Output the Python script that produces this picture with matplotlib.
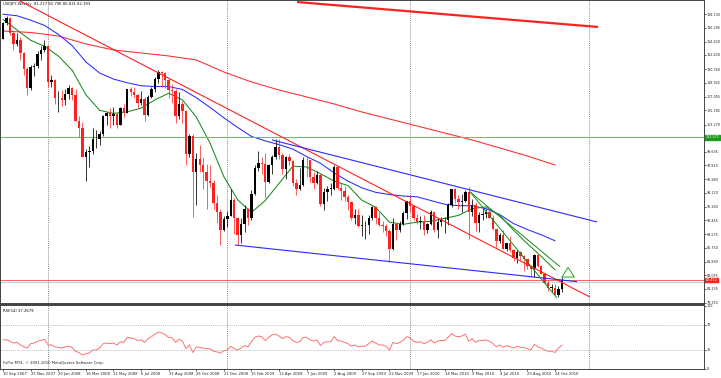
import numpy as np
import pandas as pd
import matplotlib
matplotlib.use("Agg")
import matplotlib.pyplot as plt

# ---------------- data ----------------
dates = pd.date_range("2007-09-30", periods=163, freq="7D")
opens = [114.8,116.9,117.6,115.6,114.1,114.7,112.9,110.7,108.2,111.0,111.2,112.8,113.3,113.9,109.0,109.3,106.8,106.8,106.6,107.4,
         108.2,107.3,103.8,102.8,99.0,99.6,99.8,101.3,101.3,102.0,104.5,104.9,104.5,104.7,103.3,105.5,104.9,108.0,107.6,107.3,
         106.2,106.7,104.6,107.0,108.0,109.4,110.4,110.2,109.3,107.9,107.8,104.4,106.1,105.1,99.3,101.7,96.9,98.7,97.9,96.9,
         95.7,95.4,92.7,91.6,89.2,90.6,91.0,93.2,90.7,88.5,89.9,92.0,90.7,94.0,97.5,98.2,98.0,95.6,97.9,99.0,
         100.3,99.2,97.3,98.9,98.4,95.5,94.7,95.2,98.6,98.5,96.2,95.5,96.5,92.6,94.3,94.7,94.7,97.6,94.8,94.4,
         93.6,92.9,90.8,91.1,89.7,89.8,89.8,90.8,92.2,90.7,89.8,89.7,89.0,86.6,90.0,89.2,89.9,91.4,93.0,92.3,
         90.7,90.2,90.3,89.2,89.9,91.5,89.2,90.2,90.5,90.5,92.5,94.6,93.3,92.9,93.1,94.2,91.6,92.5,90.1,91.1,
         91.3,91.6,90.8,89.3,87.6,88.5,86.6,87.4,86.5,85.4,86.2,85.6,85.2,84.3,83.9,85.8,84.3,83.3,82.0,81.4,
         81.4,80.4,81.217]
highs = [117.1,117.9,117.7,115.8,115.6,115.0,113.0,111.0,111.3,111.6,113.2,113.8,114.6,113.9,110.0,109.4,107.8,107.9,108.1,108.6,
         108.4,108.0,104.5,103.6,100.0,100.4,102.8,102.6,102.4,104.6,105.0,105.5,105.7,104.9,105.6,106.1,108.0,108.4,108.3,107.4,
         107.8,107.0,107.2,108.3,109.7,110.6,110.5,110.3,109.5,108.8,108.0,107.7,106.5,105.2,102.0,102.0,99.5,100.5,99.0,98.0,
         97.9,95.8,93.9,92.0,91.0,91.7,94.6,93.4,90.9,90.7,92.5,92.1,94.5,97.8,99.7,98.9,99.5,98.0,99.2,101.4,
         101.3,99.5,99.1,99.3,98.6,96.0,97.4,98.9,98.9,98.6,96.9,97.1,96.6,94.8,95.1,95.4,97.8,97.7,95.3,95.0,
         93.9,93.1,92.0,92.0,91.2,90.3,91.1,92.3,92.3,91.5,90.4,89.9,89.3,90.8,90.1,90.3,91.7,93.0,93.8,92.4,
         91.3,91.0,91.2,90.1,91.8,91.6,90.7,90.9,90.9,92.8,94.6,94.8,93.8,94.0,94.5,94.9,93.3,92.9,91.5,92.2,
         92.0,92.0,91.2,89.3,88.7,89.2,87.4,88.4,86.6,86.4,86.3,85.8,85.3,84.4,85.9,85.9,84.4,83.4,82.4,81.9,
         81.9,81.6,82.796]
lows = [114.8,116.6,115.3,113.3,113.9,112.0,109.9,107.3,107.9,109.8,110.9,112.0,113.0,108.4,108.3,106.0,105.0,105.8,105.9,106.7,
        106.6,103.8,101.6,98.9,95.7,97.6,99.4,100.2,100.6,101.7,103.2,102.8,103.2,102.8,103.2,104.3,104.9,107.1,106.9,105.5,
        105.9,103.8,104.5,106.8,107.6,108.9,108.4,108.2,106.8,106.2,103.5,104.0,103.5,97.9,99.0,90.9,92.5,96.9,94.6,92.0,
        94.9,91.9,90.1,87.1,89.0,89.6,91.0,88.6,87.1,87.4,88.9,89.8,90.5,93.8,97.0,96.6,93.5,95.5,96.7,98.7,
        98.7,96.7,96.0,97.8,95.1,93.9,94.5,95.0,96.3,95.6,94.7,95.3,92.4,91.8,93.0,93.8,94.5,94.5,93.2,93.0,
        91.8,90.5,90.0,89.6,88.3,88.0,88.6,90.5,90.0,89.7,88.9,88.3,84.8,86.4,87.8,88.9,89.8,90.6,91.5,90.5,
        89.9,89.3,88.5,88.8,89.8,88.9,88.1,89.7,88.8,89.8,92.2,92.7,91.9,91.6,92.9,87.9,91.0,89.0,88.9,90.5,
        90.7,90.7,89.1,86.9,87.4,86.6,86.3,86.2,85.0,84.7,85.1,83.6,83.9,82.9,82.9,84.2,83.2,81.9,80.9,80.8,
        80.4,80.2,80.831]
closes = [116.9,117.6,115.6,114.1,114.7,112.9,110.7,108.2,111.0,111.2,112.8,113.3,113.9,109.0,109.3,106.8,106.8,106.6,107.4,108.2,
          107.3,103.8,102.8,99.0,99.6,99.8,101.3,101.3,102.0,104.5,104.9,104.5,104.7,103.3,105.5,104.9,108.0,107.6,107.3,106.2,
          106.7,104.6,107.0,108.0,109.4,110.4,110.2,109.3,107.9,107.8,104.4,106.1,105.1,99.3,101.7,96.9,98.7,97.9,96.9,95.7,
          95.4,92.7,91.6,89.2,90.6,91.0,93.2,90.7,88.5,89.9,92.0,90.7,94.0,97.5,98.2,98.0,95.6,97.9,99.0,100.3,
          99.2,97.3,98.9,98.4,95.5,94.7,95.2,98.6,98.5,96.2,95.5,96.5,92.6,94.3,94.7,94.7,97.6,94.8,94.4,93.6,
          92.9,90.8,91.1,89.7,89.8,89.8,90.8,92.2,90.7,89.8,89.7,89.0,86.6,90.0,89.2,89.9,91.4,93.0,92.3,90.7,
          90.2,90.3,89.2,89.9,91.5,89.2,90.2,90.5,90.5,92.5,94.6,93.3,92.9,93.1,94.2,91.6,92.5,90.1,91.1,91.3,
          91.6,90.8,89.3,87.6,88.5,86.6,87.4,86.5,85.4,86.2,85.6,85.2,84.3,83.9,85.8,84.3,83.3,82.0,81.4,81.4,
          80.4,81.217,82.393]

# moving averages
ma_green_step = 4
ma_green = [117.4,116.0,114.6,113.8,112.5,110.6,107.3,105.2,104.8,105.0,105.5,106.6,107.5,106.6,104.3,100.8,96.3,93.2,91.5,93.1,
            95.4,97.7,97.6,96.7,95.7,95.1,93.15,92.2,90.2,89.9,90.2,90.3,90.7,91.1,92.0,92.25,91.1,89.1,87.3,85.6,83.8]
ma_blue_step = 4
ma_blue = [118.1,117.9,117.3,116.6,115.4,113.9,111.7,110.2,109.4,108.9,108.5,108.4,108.4,108.0,106.9,105.6,104.2,102.9,101.7,101.1,
           100.6,100.0,99.0,98.1,96.8,95.7,94.8,94.2,93.9,93.7,93.6,93.1,92.6,92.4,92.4,92.0,91.2,90.0,89.2,88.5,87.7]
ma_red_step = 8
ma_red = [115.85,115.65,115.18,114.11,113.30,112.90,112.50,111.96,110.35,109.01,107.93,107.0,106.05,104.98,104.04,103.1,102.16,101.22,100.15,99.07,97.87]

rsi = [46,46,44,41,42,38,35,33,40,41,44,45,47,38,38,35,34,33,35,36,
       34,28,26,22,24,25,30,30,33,40,41,40,41,38,43,42,50,49,48,45,
       46,42,48,51,55,58,57,54,50,49,42,47,44,32,38,26,35,34,33,32,
       32,28,27,25,29,30,36,32,30,33,37,35,43,50,52,51,45,50,54,55,
       52,48,51,50,45,42,43,50,50,46,44,46,37,42,43,43,51,45,44,42,
       40,36,38,35,36,36,40,44,41,38,38,36,30,42,40,42,45,51,49,44,
       42,43,40,42,46,41,44,45,45,50,56,52,51,52,55,44,48,42,45,45,
       46,44,40,35,38,34,37,35,33,36,34,34,32,30,39,35,33,30,28,28,
       26,33,37.27]

# drawn objects: (bar, price) anchors
trend_red_steep = [(4.35, 120.01), (170.1, 80.15)]
trend_red_top = [(85.2, 119.74), (172.5, 116.39)]
trend_blue_upper = [(78.0, 101.22), (172.2, 90.22)]
trend_blue_lower = [(67.2, 87.13), (166.4, 82.21)]
trend_green_a = [(135.4, 94.24), (160.6, 80.0)]
trend_green_b = [(135.4, 94.24), (161.5, 84.2)]
arrow_up = [(163.8, 82.85), (163.8, 84.5)]
hline_green = 101.57
ask_price = 82.45
bid_price = 82.13
year_bars = [13, 65, 118, 170]

price_ticks = [118.130,116.295,114.420,112.630,110.740,108.925,107.055,105.185,103.270,99.635,97.815,95.980,
               94.120,92.260,90.445,88.575,86.750,84.890,83.075,81.235,79.350]

# ---------------- figure ----------------
FS = 2.7
FSY = 2.45
W, H = 721, 378
fig = plt.figure(figsize=(W/100, H/100), dpi=100)
fig.patch.set_facecolor("white")
axw = 704/W
ax = fig.add_axes([0, 1-304/H, axw, 304/H])
ax2 = fig.add_axes([0, 1-369/H, axw, 64/H])

n = len(closes)
x = np.arange(n)
xlim = (-0.9, 203.2)
for a in (ax, ax2):
    a.set_xlim(*xlim)
    for s in a.spines.values():
        s.set_color("#444444")
        s.set_linewidth(0.7)
    a.set_facecolor("white")
ax.spines["bottom"].set_linewidth(1.4)
ax2.spines["top"].set_linewidth(1.4)
ax.set_ylim(79.21, 120.01)
ax2.set_ylim(0, 101)

# year separators
for b in year_bars:
    for a in (ax, ax2):
        a.axvline(b, color="#666666", lw=0.5, ls=(0, (1.5, 1.5)))

# candles
o = np.array(opens); h = np.array(highs); l = np.array(lows); c = np.array(closes)
up = c >= o
ax.vlines(x[up], l[up], h[up], color="#000000", lw=0.55, zorder=3)
ax.vlines(x[~up], l[~up], h[~up], color="#ff3030", lw=0.55, zorder=3)
ax.bar(x[up], np.maximum(c[up]-o[up], 0.05), bottom=o[up], width=0.7, color="#000000", zorder=4)
ax.bar(x[~up], o[~up]-c[~up], bottom=c[~up], width=0.7, color="#ff2020", zorder=4)

# moving averages
ax.plot(np.arange(len(ma_red)) * ma_red_step, ma_red, color="#ff2a2a", lw=0.75, zorder=2)
ax.plot(np.arange(len(ma_blue)) * ma_blue_step, ma_blue, color="#2a2aff", lw=0.75, zorder=2)
ax.plot(np.arange(len(ma_green)) * ma_green_step, ma_green, color="#1a8a1a", lw=0.75, zorder=2)

# trend lines
def seg(p, col, lw):
    ax.plot([p[0][0], p[1][0]], [p[0][1], p[1][1]], color=col, lw=lw, zorder=5, solid_capstyle="butt")
seg(trend_red_steep, "#ff2020", 0.8)
seg(trend_red_top, "#ff2020", 1.6)
seg(trend_blue_upper, "#2a2aff", 0.8)
seg(trend_blue_lower, "#2a2aff", 0.8)
seg(trend_green_a, "#1a8a1a", 0.7)
seg(trend_green_b, "#1a8a1a", 0.7)

ax.axhline(hline_green, color="#66bb66", lw=0.7, zorder=2)
ax.axhline(ask_price, color="#ff6060", lw=0.7, zorder=2)
ax.axhline(bid_price, color="#bbbbbb", lw=0.5, zorder=2)

# arrow
ax.annotate("", xy=arrow_up[1], xytext=arrow_up[0],
            arrowprops=dict(arrowstyle="simple,head_width=0.9,head_length=0.7,tail_width=0.45",
                            fc="white", ec="#22aa22", lw=0.7))

# axes ticks
ax.set_xticks([])
ax.yaxis.tick_right()
ax.set_yticks(price_ticks)
ax.set_yticklabels([f"{v:.3f}" for v in price_ticks])
ax.tick_params(axis="y", labelsize=FSY, length=1.2, width=0.5, pad=0.6, colors="#222222")

def price_box(v, txt, fc):
    ax.text(1.0025, v, txt, transform=ax.get_yaxis_transform(), fontsize=FSY, color="white",
            va="center", ha="left", bbox=dict(boxstyle="square,pad=0.1", fc=fc, ec=fc), zorder=10, clip_on=False)
price_box(hline_green, "101.572", "#1a9a1a")
price_box(ask_price, "82.453", "#ff2020")

ax.text(0.004, 0.993, "USDJPY,Weekly  81.217 82.796 80.831 82.393", transform=ax.transAxes,
        fontsize=FS, va="top", ha="left", color="#111111")

# RSI
ax2.plot(x, rsi, color="#ff7070", lw=0.7)
for lv in (70, 30):
    ax2.axhline(lv, color="#aaaaaa", lw=0.5, ls=(0, (1.5, 1.5)))
ax2.yaxis.tick_right()
ax2.set_yticks([100, 70, 30, 0])
ax2.set_yticklabels(["100", "70", "30", "0"])
ax2.tick_params(axis="y", labelsize=FSY, length=1.2, width=0.5, pad=0.6, colors="#222222")
ax2.text(0.004, 0.93, "RSI(14) 37.2679", transform=ax2.transAxes, fontsize=FS, va="top", ha="left")
ax2.text(0.004, 0.06, "FxPro MT4, \u00a9 2001-2010 MetaQuotes Software Corp.", transform=ax2.transAxes,
         fontsize=FS, va="bottom", ha="left", color="#222222")

lab_bars = list(range(0, 161, 8))
ax2.set_xticks(lab_bars)
ax2.set_xticklabels([f"{dates[b].day} {dates[b].strftime('%b %Y')}" for b in lab_bars], ha="left")
ax2.tick_params(axis="x", labelsize=FS, length=1.2, width=0.5, pad=0.8, colors="#222222")

fig.savefig("out.png", dpi=100, facecolor="white")
